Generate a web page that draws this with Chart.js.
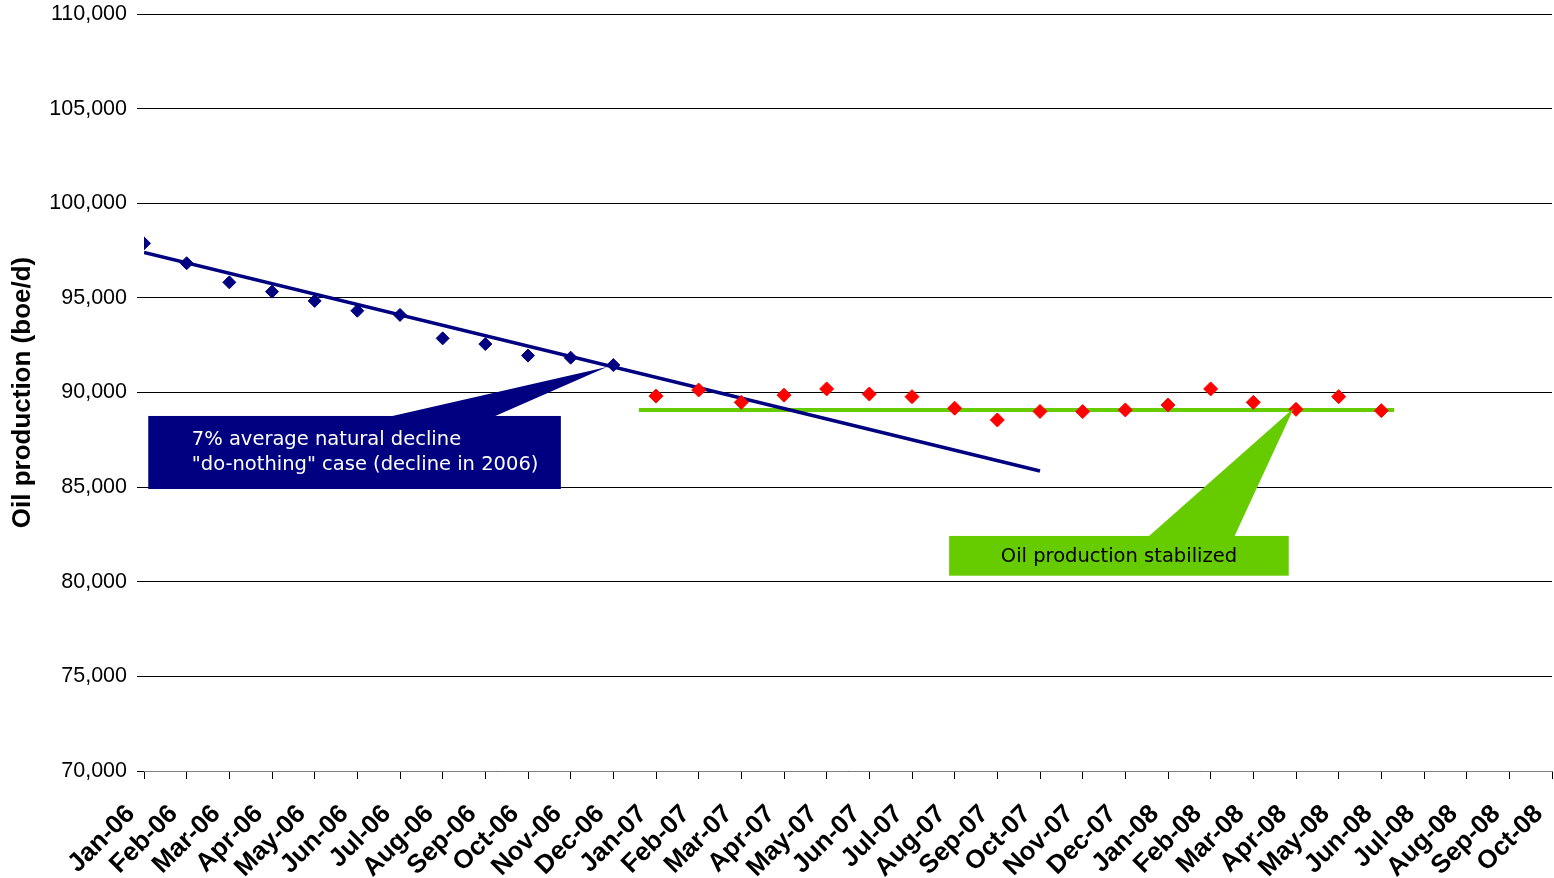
<!DOCTYPE html>
<html>
<head>
<meta charset="utf-8">
<title>Oil production</title>
<script src="https://cdn.jsdelivr.net/npm/chart.js@4/dist/chart.umd.min.js"></script>
<style>
  html, body { margin: 0; padding: 0; background: #ffffff; overflow: hidden; }
  /* canvas is a few pixels wider than the frame so the plot reaches the right edge */
  #wrap { width: 1554px; height: 878px; overflow: hidden; }
  #chart { display: block; }
</style>
</head>
<body>
<div id="wrap"><canvas id="chart" width="1560" height="878"></canvas></div>
<script>
// Month categories on the x axis
const months = [
  'Jan-06','Feb-06','Mar-06','Apr-06','May-06','Jun-06','Jul-06','Aug-06','Sep-06','Oct-06','Nov-06','Dec-06',
  'Jan-07','Feb-07','Mar-07','Apr-07','May-07','Jun-07','Jul-07','Aug-07','Sep-07','Oct-07','Nov-07','Dec-07',
  'Jan-08','Feb-08','Mar-08','Apr-08','May-08','Jun-08','Jul-08','Aug-08','Sep-08','Oct-08'
];

// Monthly oil production, boe/d
const production2006 = [97880, 96830, 95820, 95330, 94840, 94320, 94100, 92860, 92560, 91950, 91840, 91450];
const production2007_08 = [89810, 90130, 89480, 89860, 90190, 89920, 89780, 89170, 88550, 89000, 88990, 89080,
                           89340, 90190, 89480, 89110, 89780, 89040];
const firstMonth2007 = 12;

// "Do-nothing" decline trend (start / end month index and value)
const declineTrendMonths = [0, 21];
const declineTrendValues = [97400, 85850];

// Stabilized production level and the months it spans
const stabilizedLevel = 89075;
const stabilizedSpan = [11.6, 29.3];

// Y axis range
const yMin = 70000, yMax = 110000, yStep = 5000;

const pts2006 = production2006.map((v, i) => ({ x: i, y: v }));
const pts2007 = production2007_08.map((v, i) => ({ x: firstMonth2007 + i, y: v }));
const trendPts = declineTrendMonths.map((m, i) => ({ x: m, y: declineTrendValues[i] }));
const levelPts = stabilizedSpan.map(m => ({ x: m, y: stabilizedLevel }));

// Callout boxes with a wedge pointer; geometry in axis units
const callouts = [
  {
    fill: '#000080', color: '#ffffff', align: 'left',
    box: { x0: 0.1, x1: 9.77, yTop: 88760, yBottom: 84900 },
    wedge: { base0: 5.72, base1: 8.18, tipX: 10.85, tipY: 91350 },
    textX: 1.12, baselines: [29, 54.5],
    lines: ['7% average natural decline', '"do-nothing" case (decline in 2006)']
  },
  {
    fill: '#66CC00', color: '#000000', align: 'center',
    box: { x0: 18.87, x1: 26.83, yTop: 82420, yBottom: 80320 },
    wedge: { base0: 23.53, base1: 25.55, tipX: 26.95, tipY: 89180 },
    textX: null, baselines: [26],
    lines: ['Oil production stabilized']
  }
];

const calloutPlugin = {
  id: 'callouts',
  afterDatasetsDraw(chart) {
    const { ctx } = chart;
    const xs = chart.scales.x, ys = chart.scales.y;
    ctx.save();
    callouts.forEach(c => {
      const left = xs.getPixelForValue(c.box.x0);
      const right = xs.getPixelForValue(c.box.x1);
      const top = ys.getPixelForValue(c.box.yTop);
      const bottom = ys.getPixelForValue(c.box.yBottom);
      ctx.fillStyle = c.fill;
      ctx.fillRect(left, top, right - left, bottom - top);
      ctx.beginPath();
      ctx.moveTo(xs.getPixelForValue(c.wedge.base0), top + 1);
      ctx.lineTo(xs.getPixelForValue(c.wedge.tipX), ys.getPixelForValue(c.wedge.tipY));
      ctx.lineTo(xs.getPixelForValue(c.wedge.base1), top + 1);
      ctx.closePath();
      ctx.fill();
      ctx.fillStyle = c.color;
      ctx.font = '19.5px "DejaVu Sans", Verdana, sans-serif';
      ctx.textBaseline = 'alphabetic';
      ctx.textAlign = c.align;
      const tx = c.align === 'left' ? xs.getPixelForValue(c.textX) : (left + right) / 2;
      c.lines.forEach((line, i) => ctx.fillText(line, tx, top + c.baselines[i]));
    });
    ctx.restore();
  }
};

new Chart(document.getElementById('chart'), {
  type: 'scatter',
  data: {
    datasets: [
      {
        label: '2006', data: pts2006, pointStyle: 'rectRot', pointRadius: 6.5,
        backgroundColor: '#000080', borderColor: '#000080', borderWidth: 1
      },
      {
        label: '2007-2008', data: pts2007, pointStyle: 'rectRot', pointRadius: 7,
        backgroundColor: '#FF0000', borderColor: '#FF0000', borderWidth: 1
      },
      {
        label: 'Decline trend', type: 'line', data: trendPts, borderColor: '#000080',
        borderWidth: 3.5, pointRadius: 0, fill: false, tension: 0
      },
      {
        label: 'Stabilized', type: 'line', data: levelPts, borderColor: '#66CC00',
        borderWidth: 4, pointRadius: 0, fill: false, tension: 0
      }
    ]
  },
  options: {
    responsive: false,
    animation: false,
    devicePixelRatio: 1,
    layout: { padding: { top: 14, right: 2, left: 0, bottom: 0 } },
    plugins: { legend: { display: false }, tooltip: { enabled: false } },
    scales: {
      x: {
        type: 'linear', position: 'bottom', min: 0, max: months.length - 1,
        afterFit(scale) {
          scale.height = 107;
          scale.paddingLeft = 0;
          scale.paddingRight = 0;
        },
        ticks: {
          stepSize: 1, autoSkip: false, minRotation: 45, maxRotation: 45,
          color: '#000000', padding: 20, labelOffset: -13,
          font: { family: '"Liberation Sans", Arial, sans-serif', size: 26, weight: 'bold' },
          callback: v => months[v]
        },
        grid: { drawOnChartArea: false, drawTicks: true, tickLength: 8, color: '#000000' },
        border: { display: true, color: '#808080', width: 1 }
      },
      y: {
        min: yMin, max: yMax,
        afterFit(scale) {
          scale.width = 144;
          scale.paddingTop = 0;
          scale.paddingBottom = 0;
        },
        ticks: {
          stepSize: yStep, color: '#000000', padding: 10,
          font: { family: '"Liberation Sans", Arial, sans-serif', size: 21.5 },
          callback: v => v.toLocaleString('en-US')
        },
        grid: { color: '#000000', lineWidth: 1, tickLength: 7 },
        border: { display: false },
        title: {
          display: true, text: 'Oil production (boe/d)', color: '#000000',
          padding: { top: 7, bottom: 0 },
          font: { family: '"Liberation Sans", Arial, sans-serif', size: 26, weight: 'bold' }
        }
      }
    }
  },
  plugins: [calloutPlugin]
});
</script>
</body>
</html>
